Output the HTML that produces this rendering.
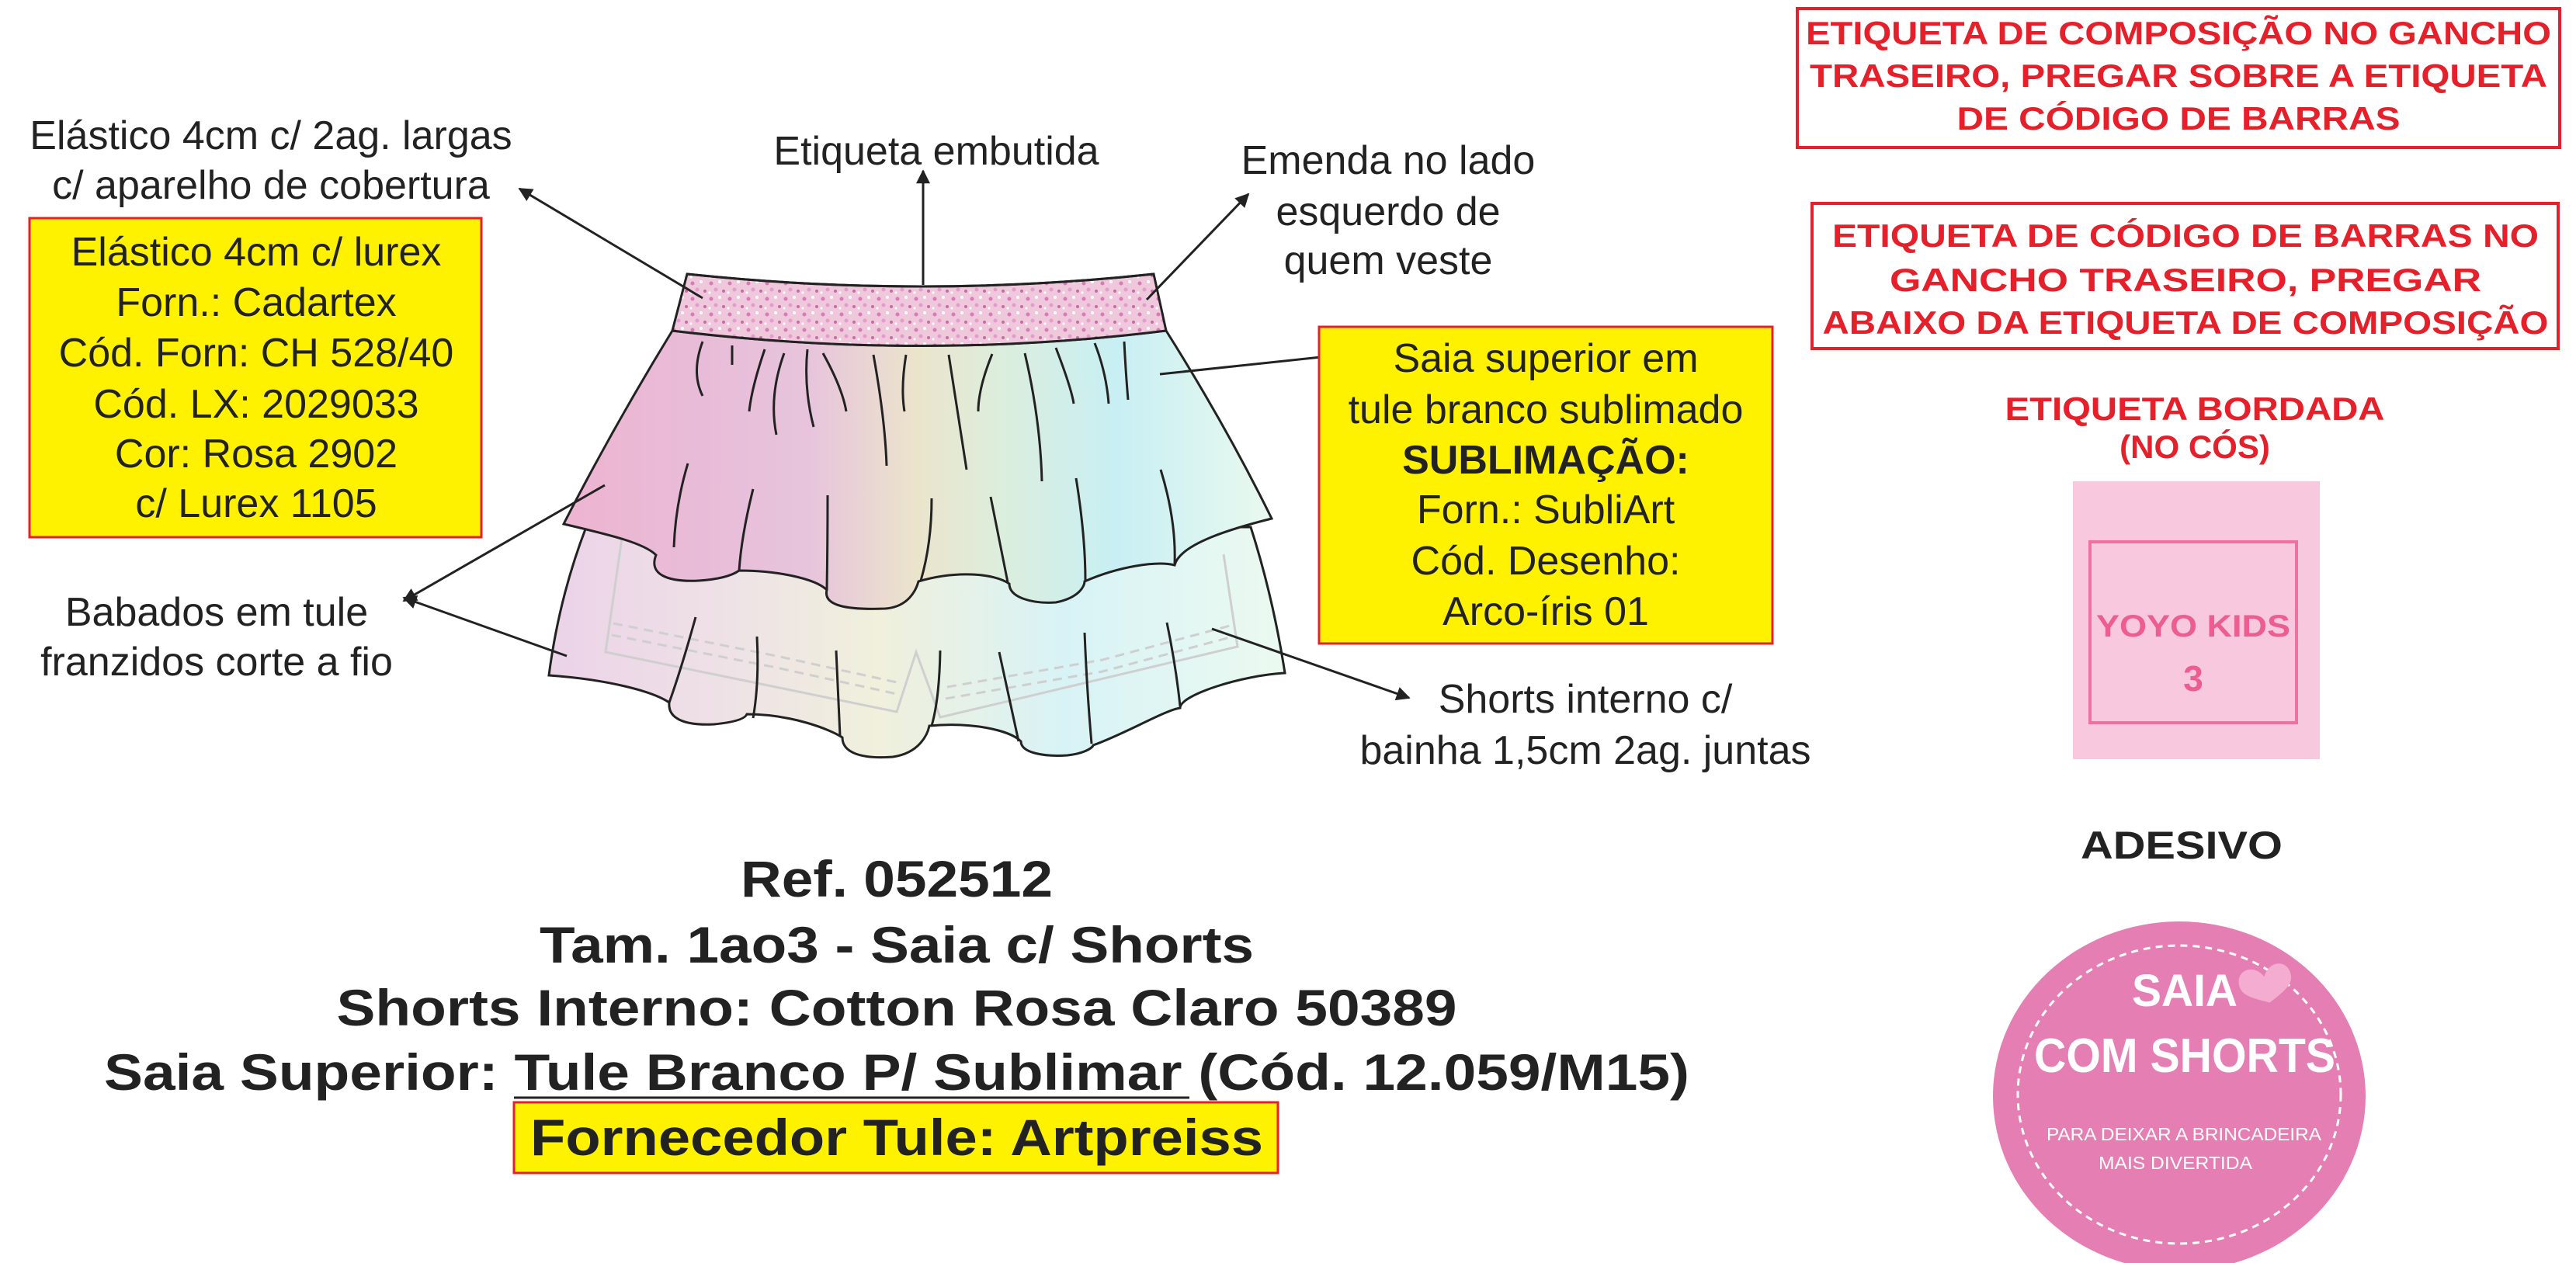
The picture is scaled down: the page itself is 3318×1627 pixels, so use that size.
<!DOCTYPE html>
<html><head><meta charset="utf-8"><style>
html,body{margin:0;padding:0;background:#fff;}
svg{display:block;}
text{font-family:"Liberation Sans",sans-serif;}
</style></head><body>
<svg width="3318" height="1627" viewBox="0 0 3318 1627" xmlns="http://www.w3.org/2000/svg">
<defs>
<linearGradient id="rb" x1="720" y1="0" x2="1640" y2="0" gradientUnits="userSpaceOnUse">
<stop offset="0" stop-color="#eeb4d0"/><stop offset="0.2" stop-color="#e8bcd8"/><stop offset="0.35" stop-color="#e7c4dc"/>
<stop offset="0.5" stop-color="#ebe4cc"/><stop offset="0.62" stop-color="#dceedd"/><stop offset="0.78" stop-color="#c8eff4"/><stop offset="1" stop-color="#eaf9ee"/>
</linearGradient>
<linearGradient id="rb2" x1="700" y1="0" x2="1660" y2="0" gradientUnits="userSpaceOnUse">
<stop offset="0" stop-color="#ecd2e8"/><stop offset="0.25" stop-color="#eee2e6"/><stop offset="0.45" stop-color="#f0f0dc"/>
<stop offset="0.7" stop-color="#d8f3f6"/><stop offset="1" stop-color="#ecfaf0"/>
</linearGradient>
<pattern id="gl" width="24" height="20" patternUnits="userSpaceOnUse">
<rect width="24" height="20" fill="#f0c8dc"/>
<circle cx="4" cy="5" r="2.5" fill="#d67ab8"/><circle cx="15" cy="3" r="2" fill="#fff"/>
<circle cx="10" cy="13" r="2.5" fill="#e49ccc"/><circle cx="20" cy="15" r="2" fill="#c86aa8"/><circle cx="2" cy="17" r="1.6" fill="#fff"/>
</pattern>
<marker id="ar2" viewBox="0 0 10 10" refX="9" refY="5" markerWidth="22" markerHeight="18" orient="auto" markerUnits="userSpaceOnUse"><path d="M0,0 L10,5 L0,10 z" fill="#222"/></marker>
</defs>

<!-- lower tier -->
<path d="M755,679 L1611,679 Q1640,770 1655,867 C1600,870 1520,895 1520,912 C1500,915 1450,945 1408,960 C1408,962 1400,970 1375,973 C1345,975 1315,970 1315,955 C1300,940 1250,930 1197,935 C1195,945 1185,970 1150,975 C1110,978 1085,970 1085,950 C1070,940 1020,920 962,920 C960,925 950,930 920,933 C880,935 860,925 862,905 C840,890 780,875 707,870 Q720,770 755,679 Z" fill="url(#rb2)" stroke="#222" stroke-width="3"/>
<!-- shorts faint -->
<path d="M801,693 L780,840 L1155,917 L1180,840 L1211,924 L1594,833 L1576,714" fill="none" stroke="#cfcfcf" stroke-width="3"/>
<path d="M790,803 L1000,845 L1160,880 M1220,885 L1420,850 L1588,805" fill="none" stroke="#cfcfcf" stroke-width="3" stroke-dasharray="12 8"/>
<path d="M788,818 L1000,860 L1160,895 M1218,900 L1420,865 L1588,820" fill="none" stroke="#cfcfcf" stroke-width="3" stroke-dasharray="12 8"/>
<g stroke="#222" stroke-width="3" fill="none">
<path d="M896,795 Q878,860 862,905"/><path d="M975,820 Q978,880 970,925"/><path d="M1077,838 Q1080,900 1082,948"/>
<path d="M1211,838 Q1210,900 1200,935"/><path d="M1287,840 Q1300,900 1312,955"/><path d="M1397,815 Q1400,890 1406,958"/><path d="M1503,802 Q1515,860 1520,910"/>
</g>
<!-- upper tier -->
<path d="M866,426 Q1187,465 1502,426 Q1580,550 1638,668 C1590,680 1520,700 1513,728 C1490,722 1440,730 1397,749 C1397,755 1390,770 1360,776 C1330,778 1300,770 1300,752 C1280,738 1230,735 1183,749 C1180,760 1170,782 1140,784 C1090,786 1060,780 1065,760 C1050,745 1000,735 952,735 C945,740 930,746 900,748 C860,750 835,740 845,715 C830,700 790,690 726,675 Q790,550 866,426 Z" fill="url(#rb)" stroke="#222" stroke-width="3"/>
<g stroke="#222" stroke-width="3" fill="none">
<path d="M905,440 Q890,480 905,510"/><path d="M943,445 L943,470"/><path d="M985,450 Q968,500 965,530"/><path d="M1010,455 Q990,510 1000,560"/>
<path d="M1040,450 Q1035,500 1048,550"/><path d="M1060,455 Q1085,500 1090,530"/><path d="M1125,457 Q1140,540 1142,600"/><path d="M1167,457 Q1160,500 1165,530"/>
<path d="M1222,457 Q1235,540 1245,605"/><path d="M1278,456 Q1260,500 1260,530"/><path d="M1320,455 Q1340,540 1342,620"/><path d="M1360,448 Q1380,500 1383,520"/>
<path d="M1410,442 Q1425,480 1428,520"/><path d="M1448,440 Q1450,480 1453,515"/>
<path d="M886,597 Q870,650 868,705"/><path d="M970,630 Q955,690 952,735"/><path d="M1066,638 Q1066,700 1065,760"/><path d="M1200,642 Q1200,700 1186,748"/>
<path d="M1276,640 Q1290,710 1298,750"/><path d="M1386,616 Q1398,690 1398,748"/><path d="M1495,605 Q1515,670 1513,726"/>
</g>
<!-- waistband -->
<path d="M885,353 Q1187,385 1486,353 L1502,426 Q1187,465 866,426 Z" fill="url(#gl)" stroke="#222" stroke-width="3"/>
<path d="M885,353 Q1187,385 1486,353" fill="none" stroke="#222" stroke-width="3"/>

<!-- connectors -->
<g stroke="#222" stroke-width="3" fill="none" marker-end="url(#ar2)">
<line x1="905" y1="384" x2="669" y2="243"/>
<line x1="1189" y1="367" x2="1189" y2="220"/>
<line x1="1477" y1="386" x2="1608" y2="250"/>
<line x1="1494" y1="482" x2="1767" y2="453"/>
<line x1="779" y1="625" x2="520" y2="774"/>
<line x1="730" y1="845" x2="520" y2="770"/>
<line x1="1561" y1="810" x2="1815" y2="899"/>
</g>

<!-- labels -->
<g font-size="52" fill="#222" text-anchor="middle">
<text x="349" y="192">Elástico 4cm c/ 2ag. largas</text>
<text x="349" y="256">c/ aparelho de cobertura</text>
<text x="1206" y="212">Etiqueta embutida</text>
<text x="1788" y="224">Emenda no lado</text>
<text x="1788" y="290">esquerdo de</text>
<text x="1788" y="353">quem veste</text>
<text x="279" y="806">Babados em tule</text>
<text x="279" y="870">franzidos corte a fio</text>
<text x="2042" y="918">Shorts interno c/</text>
<text x="2042" y="984">bainha 1,5cm 2ag. juntas</text>
</g>

<rect x="38" y="281" width="582" height="411" fill="#fff200" stroke="#e5202a" stroke-width="3"/>
<g font-size="52" fill="#222" text-anchor="middle">
<text x="330" y="342">Elástico 4cm c/ lurex</text>
<text x="330" y="407">Forn.: Cadartex</text>
<text x="330" y="472">Cód. Forn: CH 528/40</text>
<text x="330" y="538">Cód. LX: 2029033</text>
<text x="330" y="602">Cor: Rosa 2902</text>
<text x="330" y="666">c/ Lurex 1105</text>
</g>
<rect x="1699" y="421" width="584" height="408" fill="#fff200" stroke="#e5202a" stroke-width="3"/>
<g font-size="52" fill="#222" text-anchor="middle">
<text x="1991" y="479">Saia superior em</text>
<text x="1991" y="545">tule branco sublimado</text>
<text x="1991" y="610" font-weight="bold">SUBLIMAÇÃO:</text>
<text x="1991" y="674">Forn.: SubliArt</text>
<text x="1991" y="740">Cód. Desenho:</text>
<text x="1991" y="805">Arco-íris 01</text>
</g>

<!-- red boxes -->
<rect x="2315" y="11" width="982" height="179" fill="#fff" stroke="#e5202a" stroke-width="4"/>
<g font-size="42" font-weight="bold" fill="#e5202a" text-anchor="middle">
<text x="2806" y="57" textLength="960" lengthAdjust="spacingAndGlyphs">ETIQUETA DE COMPOSIÇÃO NO GANCHO</text>
<text x="2806" y="112" textLength="950" lengthAdjust="spacingAndGlyphs">TRASEIRO, PREGAR SOBRE A ETIQUETA</text>
<text x="2806" y="167" textLength="571" lengthAdjust="spacingAndGlyphs">DE CÓDIGO DE BARRAS</text>
</g>
<rect x="2334" y="262" width="961" height="187" fill="#fff" stroke="#e5202a" stroke-width="4"/>
<g font-size="42" font-weight="bold" fill="#e5202a" text-anchor="middle">
<text x="2815" y="318" textLength="910" lengthAdjust="spacingAndGlyphs">ETIQUETA DE CÓDIGO DE BARRAS NO</text>
<text x="2815" y="375" textLength="762" lengthAdjust="spacingAndGlyphs">GANCHO TRASEIRO, PREGAR</text>
<text x="2815" y="430" textLength="935" lengthAdjust="spacingAndGlyphs">ABAIXO DA ETIQUETA DE COMPOSIÇÃO</text>
<text x="2827" y="541" textLength="489" lengthAdjust="spacingAndGlyphs">ETIQUETA BORDADA</text>
<text x="2827" y="590">(NO CÓS)</text>
</g>

<!-- woven label -->
<rect x="2670" y="620" width="318" height="358" fill="#f8c8de"/>
<rect x="2692" y="698" width="266" height="233" fill="none" stroke="#f0709f" stroke-width="4"/>
<g font-weight="bold" fill="#ee5d90" text-anchor="middle">
<text x="2825" y="820" font-size="40" textLength="250" lengthAdjust="spacingAndGlyphs">YOYO KIDS</text>
<text x="2825" y="890" font-size="46">3</text>
</g>

<text x="2810" y="1106" font-size="50" font-weight="bold" fill="#222" text-anchor="middle" textLength="260" lengthAdjust="spacingAndGlyphs">ADESIVO</text>

<!-- sticker -->
<ellipse cx="2807" cy="1412" rx="240" ry="225" fill="#e57fb3"/>
<ellipse cx="2807" cy="1410" rx="208" ry="192" fill="none" stroke="#fff" stroke-width="3" stroke-dasharray="9 7"/>
<path d="M2919,1258 c-10,-20 -34,-16 -34,4 c0,14 14,20 34,30 c20,-10 34,-16 34,-30 c0,-20 -24,-24 -34,-4z" fill="#f4acd0" transform="rotate(-12 2919 1270)"/>
<g font-weight="bold" fill="#fff" text-anchor="middle">
<text x="2814" y="1296" font-size="58" textLength="136" lengthAdjust="spacingAndGlyphs">SAIA</text>
<text x="2814" y="1381" font-size="62" textLength="388" lengthAdjust="spacingAndGlyphs">COM SHORTS</text>
<text x="2813" y="1469" font-size="23" font-weight="normal" textLength="354" lengthAdjust="spacingAndGlyphs">PARA DEIXAR A BRINCADEIRA</text>
<text x="2802" y="1506" font-size="23" font-weight="normal" textLength="198" lengthAdjust="spacingAndGlyphs">MAIS DIVERTIDA</text>
</g>

<!-- bottom title -->
<rect x="662" y="1420" width="984" height="91" fill="#fff200" stroke="#e5202a" stroke-width="3"/>
<g font-size="66" font-weight="bold" fill="#222" text-anchor="middle">
<text x="1155" y="1155" textLength="402" lengthAdjust="spacingAndGlyphs">Ref. 052512</text>
<text x="1155" y="1240" textLength="920" lengthAdjust="spacingAndGlyphs">Tam. 1ao3 - Saia c/ Shorts</text>
<text x="1155" y="1321" textLength="1443" lengthAdjust="spacingAndGlyphs">Shorts Interno: Cotton Rosa Claro 50389</text>
<text x="1155" y="1404" textLength="2042" lengthAdjust="spacingAndGlyphs">Saia Superior: Tule Branco P/ Sublimar (Cód. 12.059/M15)</text>
<text x="1155" y="1488" textLength="944" lengthAdjust="spacingAndGlyphs">Fornecedor Tule: Artpreiss</text>
</g>
<line x1="662" y1="1414" x2="1532" y2="1414" stroke="#222" stroke-width="3"/>
</svg>
</body></html>
